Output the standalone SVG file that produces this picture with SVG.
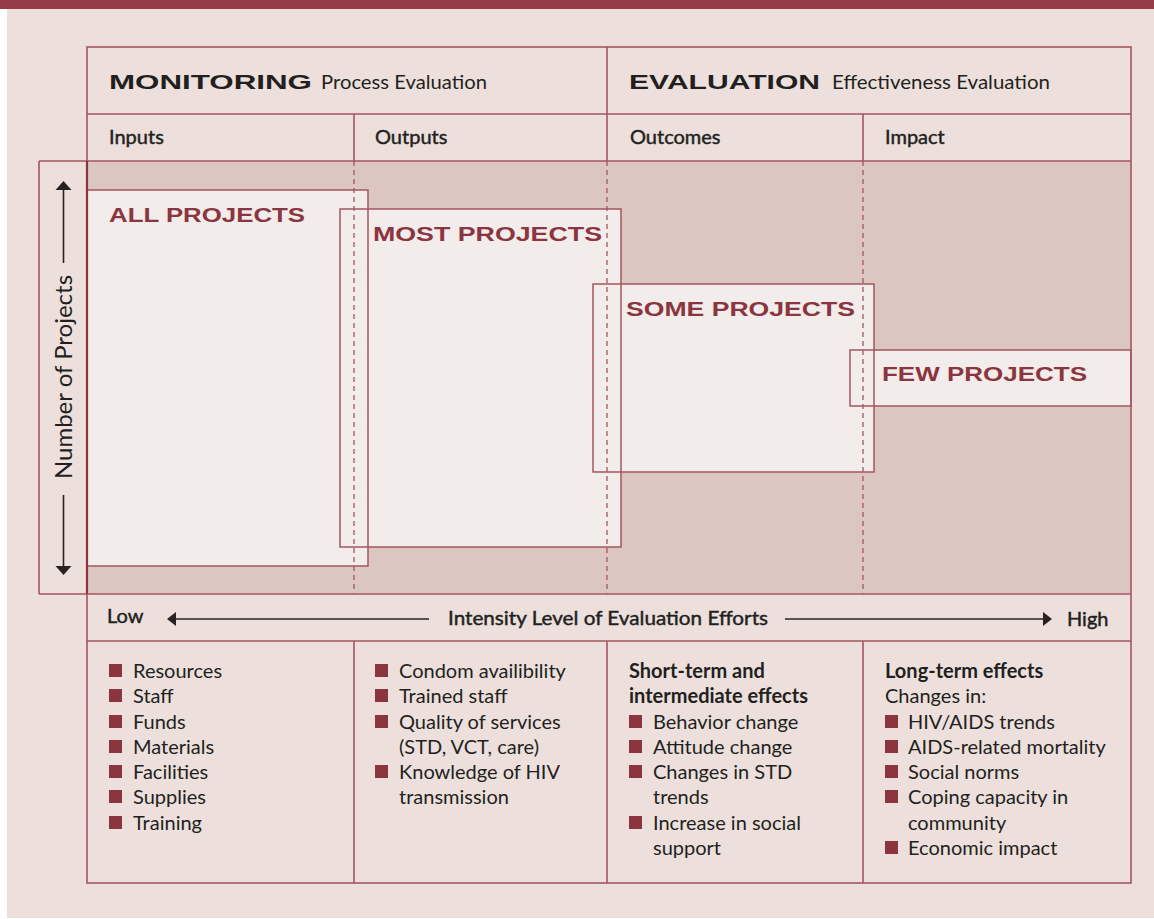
<svg xmlns="http://www.w3.org/2000/svg" width="1154" height="919" viewBox="0 0 1154 919">
<style>
.grid{stroke:#a4565f;stroke-width:1.6;fill:none}
.bx{stroke:#a4565f;stroke-width:1.5;fill:none}
.bf{fill:#f2ecea}
.dash{stroke:#a4565f;stroke-width:1.3;stroke-dasharray:5 4;fill:none}
.cap{font-family:"Liberation Sans",Arial,sans-serif;font-weight:bold;font-size:21px;fill:#231f20}
.lab{font-family:"Liberation Sans",Arial,sans-serif;font-weight:bold;font-size:21px;fill:#8b3540}
.t{font-family:Lato,"Noto Sans",sans-serif;font-size:20px;fill:#231f20}
.sh{font-family:Lato,"Noto Sans",sans-serif;font-size:20px;fill:#231f20;stroke:#231f20;stroke-width:0.45}
.tb{font-family:Lato,"Noto Sans",sans-serif;font-size:20px;font-weight:bold;fill:#231f20}
.bul{fill:#8b3540}
.ax{stroke:#2a2222;stroke-width:1.6;fill:none}
.ah{fill:#2a2222}
</style>
<rect x="0" y="0" width="1154" height="919" fill="#ffffff"/>
<rect x="7" y="0" width="1147" height="918" fill="#ecdfdc"/>
<rect x="0" y="0" width="1154" height="9" fill="#943c48"/>

<g id="chart-area">
<rect x="87" y="161" width="1044" height="433" fill="#dcc6c2"/>
</g>

<g id="fills">
<rect class="bf" x="87" y="190" width="281" height="376"/>
<rect class="bf" x="340" y="209" width="281" height="338"/>
<rect class="bf" x="593" y="284" width="281" height="188"/>
<rect class="bf" x="850" y="350" width="281" height="56"/>
</g>

<g id="all-projects">
<rect class="bx" x="87" y="190" width="281" height="376"/>
<text class="lab" x="109" y="222" textLength="196" lengthAdjust="spacingAndGlyphs">ALL PROJECTS</text>
</g>
<g id="most-projects">
<rect class="bx" x="340" y="209" width="281" height="338"/>
<text class="lab" x="373" y="241" textLength="229" lengthAdjust="spacingAndGlyphs">MOST PROJECTS</text>
</g>
<g id="some-projects">
<rect class="bx" x="593" y="284" width="281" height="188"/>
<text class="lab" x="626" y="316" textLength="229" lengthAdjust="spacingAndGlyphs">SOME PROJECTS</text>
</g>
<g id="few-projects">
<rect class="bx" x="850" y="350" width="281" height="56"/>
<text class="lab" x="882" y="381" textLength="205" lengthAdjust="spacingAndGlyphs">FEW PROJECTS</text>
</g>

<g id="dashes">
<line class="dash" x1="354" y1="161" x2="354" y2="594"/>
<line class="dash" x1="607" y1="161" x2="607" y2="594"/>
<line class="dash" x1="863" y1="161" x2="863" y2="594"/>
</g>

<g id="table">
<rect class="grid" x="87" y="47" width="1044" height="836"/>
<line class="grid" x1="87" y1="114" x2="1131" y2="114"/>
<line class="grid" x1="39" y1="161" x2="1131" y2="161"/>
<line class="grid" x1="39" y1="594" x2="1131" y2="594"/>
<line class="grid" x1="87" y1="641" x2="1131" y2="641"/>
<line class="grid" x1="607" y1="47" x2="607" y2="161"/>
<line class="grid" x1="354" y1="114" x2="354" y2="161"/>
<line class="grid" x1="863" y1="114" x2="863" y2="161"/>
<line class="grid" x1="354" y1="641" x2="354" y2="883"/>
<line class="grid" x1="607" y1="641" x2="607" y2="883"/>
<line class="grid" x1="863" y1="641" x2="863" y2="883"/>
<line class="grid" x1="39" y1="161" x2="39" y2="594"/>
<line x1="87" y1="161" x2="87" y2="594" stroke="#8b3540" stroke-width="2.2"/>
</g>

<g id="header">
<text class="cap" x="109" y="89" textLength="203" lengthAdjust="spacingAndGlyphs">MONITORING</text>
<text class="t" x="321" y="89" textLength="166" lengthAdjust="spacingAndGlyphs">Process Evaluation</text>
<text class="cap" x="629" y="89" textLength="191" lengthAdjust="spacingAndGlyphs">EVALUATION</text>
<text class="t" x="832" y="89" textLength="218" lengthAdjust="spacingAndGlyphs">Effectiveness Evaluation</text>
</g>
<g id="subheader">
<text class="sh" x="109" y="144">Inputs</text>
<text class="sh" x="375" y="144">Outputs</text>
<text class="sh" x="630" y="144">Outcomes</text>
<text class="sh" x="885" y="144">Impact</text>
</g>

<g id="connectors">
<line class="ax" x1="63.5" y1="188" x2="63.5" y2="263"/>
<polygon class="ah" points="63.5,181 55.5,190 71.5,190"/>
<line class="ax" x1="63.5" y1="495" x2="63.5" y2="568"/>
<polygon class="ah" points="63.5,575 55.5,566 71.5,566"/>
<line class="ax" x1="174" y1="619" x2="429" y2="619"/>
<polygon class="ah" points="167,619 176,612 176,626"/>
<line class="ax" x1="785" y1="619" x2="1044" y2="619"/>
<polygon class="ah" points="1052,619 1043,612 1043,626"/>
</g>

<g id="axis-labels">
<text class="t" x="0" y="0" text-anchor="middle" transform="translate(71.5,377) rotate(-90)" style="font-size:24px">Number of Projects</text>
<text class="sh" x="107" y="623">Low</text>
<text class="sh" x="448" y="625" textLength="320" lengthAdjust="spacingAndGlyphs">Intensity Level of Evaluation Efforts</text>
<text class="sh" x="1067" y="626">High</text>
</g>

<g id="inputs-list">
<rect class="bul" x="109" y="664" width="13" height="13"/><text class="t" x="133" y="678">Resources</text>
<rect class="bul" x="109" y="689" width="13" height="13"/><text class="t" x="133" y="703">Staff</text>
<rect class="bul" x="109" y="715" width="13" height="13"/><text class="t" x="133" y="729">Funds</text>
<rect class="bul" x="109" y="740" width="13" height="13"/><text class="t" x="133" y="754">Materials</text>
<rect class="bul" x="109" y="765" width="13" height="13"/><text class="t" x="133" y="779">Facilities</text>
<rect class="bul" x="109" y="790" width="13" height="13"/><text class="t" x="133" y="804">Supplies</text>
<rect class="bul" x="109" y="816" width="13" height="13"/><text class="t" x="133" y="830">Training</text>
</g>
<g id="outputs-list">
<rect class="bul" x="375" y="664" width="13" height="13"/><text class="t" x="399" y="678">Condom availibility</text>
<rect class="bul" x="375" y="689" width="13" height="13"/><text class="t" x="399" y="703">Trained staff</text>
<rect class="bul" x="375" y="715" width="13" height="13"/><text class="t" x="399" y="729">Quality of services</text>
<text class="t" x="399" y="754">(STD, VCT, care)</text>
<rect class="bul" x="375" y="765" width="13" height="13"/><text class="t" x="399" y="779">Knowledge of HIV</text>
<text class="t" x="399" y="804">transmission</text>
</g>
<g id="outcomes-list">
<text class="tb" x="629" y="678">Short-term and</text>
<text class="tb" x="629" y="703">intermediate effects</text>
<rect class="bul" x="629" y="715" width="13" height="13"/><text class="t" x="653" y="729">Behavior change</text>
<rect class="bul" x="629" y="740" width="13" height="13"/><text class="t" x="653" y="754">Attitude change</text>
<rect class="bul" x="629" y="765" width="13" height="13"/><text class="t" x="653" y="779">Changes in STD</text>
<text class="t" x="653" y="804">trends</text>
<rect class="bul" x="629" y="816" width="13" height="13"/><text class="t" x="653" y="830">Increase in social</text>
<text class="t" x="653" y="855">support</text>
</g>
<g id="impact-list">
<text class="tb" x="885" y="678">Long-term effects</text>
<text class="t" x="885" y="703">Changes in:</text>
<rect class="bul" x="885" y="715" width="13" height="13"/><text class="t" x="908" y="729">HIV/AIDS trends</text>
<rect class="bul" x="885" y="740" width="13" height="13"/><text class="t" x="908" y="754">AIDS-related mortality</text>
<rect class="bul" x="885" y="765" width="13" height="13"/><text class="t" x="908" y="779">Social norms</text>
<rect class="bul" x="885" y="790" width="13" height="13"/><text class="t" x="908" y="804">Coping capacity in</text>
<text class="t" x="908" y="830">community</text>
<rect class="bul" x="885" y="841" width="13" height="13"/><text class="t" x="908" y="855">Economic impact</text>
</g>
</svg>
